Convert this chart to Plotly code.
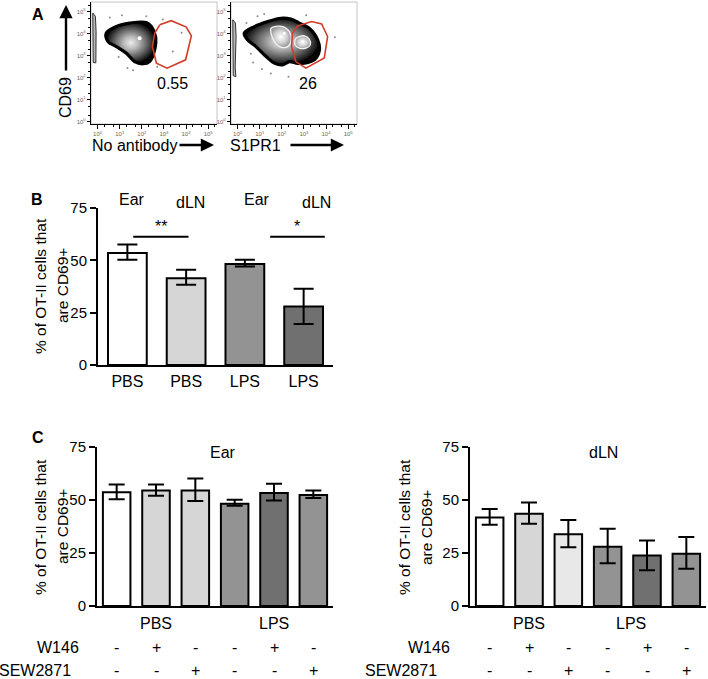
import numpy as np
import plotly.graph_objects as go

W, H = 708, 679

# ---------------- Panel A data (log10 exponents) ----------------
gate_noab_x = [2.81, 3.33, 4.01, 4.24, 3.98, 3.14, 2.66, 2.48, 2.58]
gate_noab_y = [4.41, 4.60, 4.31, 3.91, 2.82, 2.44, 2.67, 3.42, 4.03]
blob_noab_x = [0.39, 0.85, 1.45, 2.20, 2.43, 2.62, 2.58, 2.35, 2.05, 1.67, 1.30, 0.85, 0.47]
blob_noab_y = [4.03, 4.34, 4.49, 4.52, 4.34, 3.88, 3.27, 2.74, 2.64, 2.74, 3.12, 3.42, 3.65]
peak_noab = (1.90, 3.80)
band_noab_x = [-0.22, -0.10, -0.07, -0.09, -0.11, -0.08, -0.20]
band_noab_y = [4.95, 4.80, 4.10, 3.40, 2.80, 2.68, 2.70]
pct_noab = "0.55"

gate_s1_x = [2.71, 3.35, 3.80, 4.07, 3.92, 3.09, 2.63, 2.44, 2.48]
gate_s1_y = [4.36, 4.56, 4.45, 3.88, 2.90, 2.44, 2.74, 3.42, 4.03]
blob_s1_x = [0.30, 0.76, 1.37, 1.96, 2.41, 2.79, 3.24, 3.62, 3.70, 3.47, 3.02, 2.64,
             2.34, 2.04, 1.66, 1.29, 0.83, 0.45]
blob_s1_y = [4.03, 4.33, 4.56, 4.71, 4.67, 4.49, 4.26, 3.73, 3.27, 2.82, 2.67, 2.67,
             2.74, 2.59, 2.67, 2.97, 3.42, 3.73]
inner1_s1_x = [1.51, 2.04, 2.34, 2.42, 2.26, 1.89, 1.66, 1.51]
inner1_s1_y = [4.26, 4.33, 4.10, 3.73, 3.42, 3.42, 3.65, 4.03]
inner2_s1_x = [2.64, 3.02, 3.24, 3.29, 3.09, 2.79, 2.60]
inner2_s1_y = [3.80, 3.91, 3.76, 3.50, 3.35, 3.35, 3.50]
peaks_s1_x = [2.11, 2.94]
peaks_s1_y = [4.03, 3.65]
band_s1_x = [-0.22, -0.10, -0.07, -0.09, -0.11, -0.08, -0.20]
band_s1_y = [4.64, 4.50, 3.90, 3.20, 2.50, 2.05, 2.10]
pct_s1 = "26"

# sparse events scattered around the populations
ev_noab_x = [0.55, 1.10, 2.95, 3.40, 1.60, 2.70, 0.95, 2.20, 3.80, 1.35]
ev_noab_y = [4.75, 4.85, 4.65, 3.20, 2.35, 2.50, 2.95, 4.80, 4.05, 2.45]
ev_s1_x = [0.40, 0.90, 0.70, 1.10, 1.50, 2.30, 4.40, 0.60, 1.20, 3.10]
ev_s1_y = [4.50, 4.80, 2.70, 2.40, 2.20, 2.05, 3.85, 3.10, 4.90, 4.85]

log_ticks = [0, 1, 2, 3, 4, 5]
log_ticktext = ["10<sup>%d</sup>" % k for k in log_ticks]

# ---------------- Panel B data ----------------
b_labels = ["PBS", "PBS", "LPS", "LPS"]
b_tissue = ["Ear", "dLN", "Ear", "dLN"]
b_mean = [53.5, 41.5, 48.2, 27.9]
b_err_up = [4.1, 4.0, 2.1, 8.5]
b_err_dn = [3.2, 3.2, 1.1, 8.3]
b_colors = ["#ffffff", "#d6d6d6", "#939393", "#707070"]
b_sig = [("**", 0.10, 1.04), ("*", 2.43, 3.36)]
b_sig_level = 61.3

# ---------------- Panel C data ----------------
c_groups = ["PBS", "LPS"]
c_w146 = ["-", "+", "-", "-", "+", "-"]
c_sew = ["-", "-", "+", "-", "-", "+"]

c_ear_mean = [53.6, 54.5, 54.5, 48.2, 53.3, 52.3]
c_ear_up = [3.7, 2.8, 5.7, 1.9, 4.4, 2.2]
c_ear_dn = [3.2, 2.5, 5.0, 0.9, 3.5, 1.3]
c_ear_colors = ["#ffffff", "#d6d6d6", "#d6d6d6", "#939393", "#707070", "#939393"]

c_dln_mean = [41.8, 43.5, 33.9, 28.0, 23.8, 24.7]
c_dln_up = [3.9, 5.3, 6.7, 8.4, 7.1, 7.8]
c_dln_dn = [3.5, 4.7, 6.2, 7.8, 6.9, 7.1]
c_dln_colors = ["#ffffff", "#d6d6d6", "#e8e8e8", "#939393", "#707070", "#939393"]

yticks = [0, 25, 50, 75]
ytitle1 = "% of OT-II cells that"
ytitle2 = "are CD69+"

FONT = "Liberation Sans, Arial, sans-serif"


def dx(x0, x1):
    return [x0 / W, x1 / W]


def dy(y_top, y_bot):
    return [1 - y_bot / H, 1 - y_top / H]


def pow10(a):
    return list(10 ** np.asarray(a, dtype=float))


def closed(a):
    return list(a) + [a[0]]


fig = go.Figure()

# ---------- Panel A traces ----------
dens_scale = [[0, "#ececec"], [0.3, "#b8b8b8"], [0.7, "#585858"], [0.95, "#151515"], [1, "#000000"]]
for (xa, ya, bx, by, blx, bly, ex, ey) in [
    ("x", "y", band_noab_x, band_noab_y, blob_noab_x, blob_noab_y, ev_noab_x, ev_noab_y),
    ("x2", "y2", band_s1_x, band_s1_y, blob_s1_x, blob_s1_y, ev_s1_x, ev_s1_y),
]:
    fig.add_trace(go.Scatter(x=pow10(ex), y=pow10(ey), xaxis=xa, yaxis=ya, mode="markers",
                             marker=dict(color="#8a8a8a", size=2), hoverinfo="skip"))
    fig.add_trace(go.Scatter(x=pow10(closed(bx)), y=pow10(closed(by)), xaxis=xa, yaxis=ya,
                             mode="lines", fill="toself", fillcolor="#b8b8b8",
                             line=dict(color="#333333", width=1), hoverinfo="skip"))
    fig.add_trace(go.Scatter(x=pow10(closed(blx)), y=pow10(closed(bly)), xaxis=xa, yaxis=ya,
                             mode="lines", fill="toself",
                             fillgradient=dict(type="radial", colorscale=dens_scale),
                             line=dict(color="black", width=3.2, shape="spline"),
                             hoverinfo="skip"))

inner_scale = [[0, "#ffffff"], [0.6, "#cfcfcf"], [1, "#9a9a9a"]]
for ix, iy in [(inner1_s1_x, inner1_s1_y), (inner2_s1_x, inner2_s1_y)]:
    fig.add_trace(go.Scatter(x=pow10(closed(ix)), y=pow10(closed(iy)), xaxis="x2", yaxis="y2",
                             mode="lines", fill="toself",
                             fillgradient=dict(type="radial", colorscale=inner_scale),
                             line=dict(color="#f4f4f4", width=1.3, shape="spline"),
                             hoverinfo="skip"))

fig.add_trace(go.Scatter(x=pow10([peak_noab[0]]), y=pow10([peak_noab[1]]), xaxis="x", yaxis="y",
                         mode="markers", marker=dict(color="white", size=4), hoverinfo="skip"))
fig.add_trace(go.Scatter(x=pow10(peaks_s1_x), y=pow10(peaks_s1_y), xaxis="x2", yaxis="y2",
                         mode="markers", marker=dict(color="white", size=3), hoverinfo="skip"))

for xa, ya, gx, gy in [("x", "y", gate_noab_x, gate_noab_y), ("x2", "y2", gate_s1_x, gate_s1_y)]:
    fig.add_trace(go.Scatter(x=pow10(closed(gx)), y=pow10(closed(gy)), xaxis=xa, yaxis=ya,
                             mode="lines", line=dict(color="#d23b26", width=1.6),
                             hoverinfo="skip"))

# ---------- Panel B ----------
fig.add_trace(go.Bar(x=list(range(len(b_mean))), y=b_mean, xaxis="x3", yaxis="y3", width=0.66,
                     marker=dict(color=b_colors, line=dict(color="black", width=2)),
                     error_y=dict(type="data", symmetric=False, array=b_err_up, arrayminus=b_err_dn,
                                  color="black", thickness=2, width=10),
                     hoverinfo="skip"))

# ---------- Panel C ----------
for xa, ya, mean, up, dn, cols in [("x4", "y4", c_ear_mean, c_ear_up, c_ear_dn, c_ear_colors),
                                   ("x5", "y5", c_dln_mean, c_dln_up, c_dln_dn, c_dln_colors)]:
    fig.add_trace(go.Bar(x=list(range(len(mean))), y=mean, xaxis=xa, yaxis=ya, width=0.7,
                         marker=dict(color=cols, line=dict(color="black", width=2)),
                         error_y=dict(type="data", symmetric=False, array=up, arrayminus=dn,
                                      color="black", thickness=2, width=8),
                         hoverinfo="skip"))


# ---------- Axes ----------
def flow_x(domain, anchor):
    return dict(type="log", domain=domain, anchor=anchor, range=[-0.3, 5.4], automargin=False,
                tickvals=pow10(log_ticks), ticktext=log_ticktext, tickfont=dict(size=6, color="#666"),
                ticks="outside", ticklen=4, tickwidth=1, tickcolor="black",
                minor=dict(ticks="outside", ticklen=2, tickwidth=0.7, tickcolor="black", showgrid=False),
                showline=True, linecolor="black", linewidth=1.2, showgrid=False, zeroline=False)


def flow_y(domain, anchor):
    return dict(type="log", domain=domain, anchor=anchor, range=[-0.1, 5.45], automargin=False,
                tickvals=pow10(log_ticks), ticktext=log_ticktext, tickfont=dict(size=6, color="#666"),
                ticks="outside", ticklen=3, tickwidth=1, tickcolor="black",
                minor=dict(ticks="outside", ticklen=2, tickwidth=0.7, tickcolor="black", showgrid=False),
                showline=True, linecolor="black", linewidth=1.2, showgrid=False, zeroline=False)


def bar_x(domain, anchor, n, labels=None):
    d = dict(domain=domain, anchor=anchor, range=[-0.5, n - 0.5], showline=True, linecolor="black",
             linewidth=2, showgrid=False, zeroline=False, ticks="", automargin=False)
    if labels is None:
        d["showticklabels"] = False
    else:
        d["tickvals"] = list(range(n))
        d["ticktext"] = labels
        d["tickfont"] = dict(size=16)
        d["ticklabelstandoff"] = 1
    return d


def bar_y(domain, anchor):
    return dict(domain=domain, anchor=anchor, range=[0, 75], tickvals=yticks, ticks="outside",
                ticklen=6, tickwidth=2, tickcolor="black", showline=True, linecolor="black",
                linewidth=2, showgrid=False, zeroline=False, tickfont=dict(size=15), automargin=False)


fig.update_layout(
    width=W, height=H, margin=dict(l=0, r=0, t=0, b=0, autoexpand=False),
    paper_bgcolor="white", plot_bgcolor="rgba(0,0,0,0)",
    font=dict(family=FONT, color="black"), showlegend=False,
    xaxis=flow_x(dx(91, 217), "y"), yaxis=flow_y(dy(2, 124), "x"),
    xaxis2=flow_x(dx(231, 357), "y2"), yaxis2=flow_y(dy(2, 124), "x2"),
    xaxis3=bar_x(dx(98, 333), "y3", len(b_mean), b_labels), yaxis3=bar_y(dy(208, 365), "x3"),
    xaxis4=bar_x(dx(97, 333), "y4", len(c_ear_mean)), yaxis4=bar_y(dy(447, 606), "x4"),
    xaxis5=bar_x(dx(470, 706), "y5", len(c_dln_mean)), yaxis5=bar_y(dy(447, 606), "x5"),
)

shapes = []
for xa, ya in [("x", "y"), ("x2", "y2")]:
    shapes.append(dict(type="rect", xref=xa + " domain", yref=ya + " domain", x0=0, x1=1, y0=0, y1=1,
                       line=dict(color="#c4c4c4", width=1), layer="below"))
for s, c0, c1 in b_sig:
    shapes.append(dict(type="line", xref="x3", yref="y3", x0=c0, x1=c1, y0=b_sig_level,
                       y1=b_sig_level, line=dict(color="black", width=2)))
fig.update_layout(shapes=shapes)

ann = []


def txt(s, x, y, size=16, **kw):
    d = dict(text=s, x=x / W, y=1 - y / H, xref="paper", yref="paper", showarrow=False,
             font=dict(size=size), xanchor="center", yanchor="middle")
    d.update(kw)
    return d


# panel letters
ann.append(txt("<b>A</b>", 38, 14, 16))
ann.append(txt("<b>B</b>", 37, 199, 16))
ann.append(txt("<b>C</b>", 38, 437, 16))

# Panel A labels
AXY = 145
ann.append(txt("CD69", 66, 98, 16, textangle=-90))
ann.append(dict(text="", x=66 / W, y=1 - 5 / H, xref="paper", yref="paper", showarrow=True,
                ax=0, ay=67, arrowhead=2, arrowsize=1.1, arrowwidth=2.4, arrowcolor="black"))
ann.append(txt("No antibody", 134, AXY, 16))
ann.append(dict(text="", x=214 / W, y=1 - AXY / H, xref="paper", yref="paper", showarrow=True,
                ax=-36, ay=0, arrowhead=2, arrowsize=1.1, arrowwidth=2.4, arrowcolor="black"))
ann.append(txt("S1PR1", 255, AXY, 16))
ann.append(dict(text="", x=344 / W, y=1 - AXY / H, xref="paper", yref="paper", showarrow=True,
                ax=-55, ay=0, arrowhead=2, arrowsize=1.1, arrowwidth=2.4, arrowcolor="black"))
ann.append(txt(pct_noab, 172, 83, 16))
ann.append(txt(pct_s1, 308, 83, 16))

# Panel B
tissue_x = [132, 190, 257, 316]
tissue_y = [199, 202, 199, 202]
for i, t in enumerate(b_tissue):
    ann.append(txt(t, tissue_x[i], tissue_y[i], 16))
for s, c0, c1 in b_sig:
    ann.append(dict(text=s, x=(c0 + c1) / 2, y=b_sig_level, xref="x3", yref="y3", showarrow=False,
                    font=dict(size=16), xanchor="center", yanchor="bottom", yshift=0))

for (yc, x1, x2) in [(286, 40, 62), (527, 40, 62), (527, 404, 426)]:
    ann.append(txt(ytitle1, x1, yc, 15.5, textangle=-90))
    ann.append(txt(ytitle2, x2, yc, 15.5, textangle=-90))

# Panel C titles and condition rows
ann.append(txt("Ear", 223, 452, 16))
ann.append(txt("dLN", 603, 452, 16))
for xa, grp_pos in [("x4", [1, 4]), ("x5", [1, 3.6])]:
    for g, p in zip(c_groups, grp_pos):
        ann.append(dict(text=g, x=p, y=1 - 623 / H, xref=xa, yref="paper", showarrow=False,
                        font=dict(size=16), xanchor="center", yanchor="middle"))
    for i in range(len(c_w146)):
        ann.append(dict(text=c_w146[i], x=i, y=1 - 647 / H, xref=xa, yref="paper", showarrow=False,
                        font=dict(size=16), xanchor="center", yanchor="middle"))
        ann.append(dict(text=c_sew[i], x=i, y=1 - 670 / H, xref=xa, yref="paper", showarrow=False,
                        font=dict(size=16), xanchor="center", yanchor="middle"))
ann.append(txt("W146", 81, 647, 16, xanchor="right"))
ann.append(txt("SEW2871", 73, 670, 16, xanchor="right"))
ann.append(txt("W146", 452, 647, 16, xanchor="right"))
ann.append(txt("SEW2871", 439, 670, 16, xanchor="right"))

fig.update_layout(annotations=ann)

fig.write_html("out.html", config={"displayModeBar": False},
               post_script="document.body.style.margin='0';document.body.style.overflow='hidden';")
